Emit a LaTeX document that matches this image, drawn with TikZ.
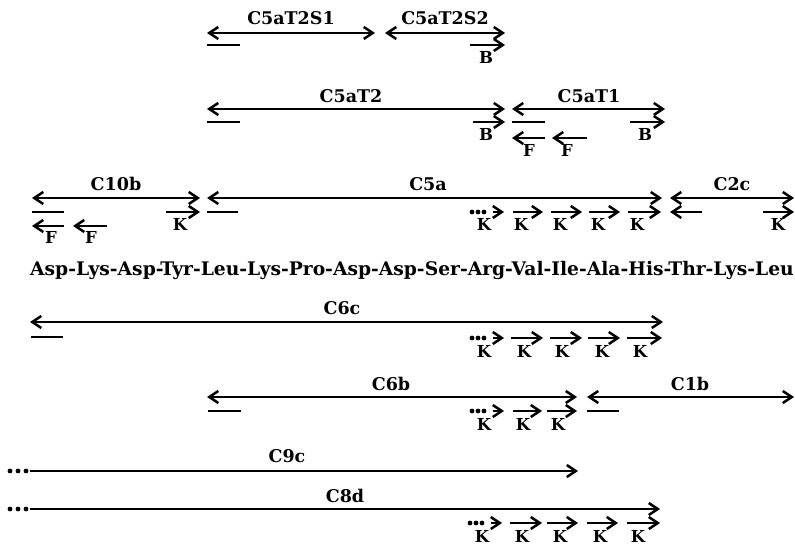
\documentclass[tikz,border=0pt]{standalone}
\usepackage{fontspec}
\setmainfont{DejaVu Serif}
\usetikzlibrary{arrows.meta}
\newcommand\Seg[5]{%
  \coordinate (#1a) at (#2,#4);
  \coordinate (#1b) at (#3,#4);
  \draw[main,#5] (#1a) -- (#1b);}
\newcommand\Lab[4]{\node[lab] (#1) at (#2,#3) {#4};}
\newcommand\Sml[4]{\node[sm] (#1) at (#2,#3) {#4};}
\newcommand\DotArr[4]{%
  \fill (#2+2,#3) circle (2.4);
  \fill (#2+8,#3) circle (2.4);
  \fill (#2+14,#3) circle (2.4);
  \coordinate (#1a) at (#2+23,#3);
  \coordinate (#1b) at (#2+34,#3);
  \draw[main,->] (#1a) -- (#1b);
  \node[sm] (#1t) at (#2+14,#3+19) {#4};}
\newcommand\Karr[6]{%
  \Seg{#1}{#2}{#3}{#4}{->}
  \node[sm] (#1t) at (#5,#4+19) {#6};}
\begin{document}
\begin{tikzpicture}[x=1pt,y=-1pt,
  >={Straight Barb[length=9pt,width=12pt]},
  main/.style={line width=2.5pt},
  lab/.style={anchor=base,inner sep=0pt,font=\fontsize{17.5}{20}\selectfont\bfseries},
  sm/.style={anchor=base,inner sep=0pt,font=\fontsize{16.5}{19}\selectfont\bfseries},
  seq/.style={anchor=base west,inner sep=0pt,font=\fontsize{18.7}{21}\selectfont\bfseries}]
\useasboundingbox (0,0) rectangle (795,545);
% row 1
\Seg{s1}{207}{375}{33}{<->} \Lab{s1t}{291}{25}{C5aT2S1}
\Seg{s2}{385}{505}{33}{<->} \Lab{s2t}{445}{25}{C5aT2S2}
\Seg{s1u}{207}{240}{45}{-}
\Karr{s2b}{470}{505}{45}{486}{B}
% row 2
\Seg{t2}{207}{505}{109}{<->} \Lab{t2t}{351}{103}{C5aT2}
\Seg{t1}{512}{665}{109}{<->} \Lab{t1t}{589}{103}{C5aT1}
\Seg{t2u}{207}{240}{122}{-}
\Karr{t2b}{473}{505}{122}{486}{B}
\Seg{t1u}{512}{545}{122}{-}
\Karr{t1b}{630}{665}{122}{645}{B}
\Seg{f1}{512}{545}{138}{<-} \Sml{f1t}{529}{157}{F}
\Seg{f2}{552}{587}{138}{<-} \Sml{f2t}{567}{157}{F}
% row 3
\Seg{c10}{32}{200}{198}{<->} \Lab{c10t}{116}{191}{C10b}
\Seg{c5}{207}{662}{198}{<->} \Lab{c5t}{428}{191}{C5a}
\Seg{c2}{670}{794}{198}{<->} \Lab{c2t}{732}{191}{C2c}
\Seg{c10u}{32}{64}{212}{-}
\Karr{c10k}{166}{200}{212}{180}{K}
\Seg{c5u}{207}{238}{212}{-}
\DotArr{c5d}{470}{212}{K}
\Karr{c5k1}{513}{543}{212}{521}{K}
\Karr{c5k2}{551}{582}{212}{560}{K}
\Karr{c5k3}{589}{620}{212}{598}{K}
\Karr{c5k4}{628}{661}{212}{637}{K}
\Seg{c2l}{670}{702}{212}{<-}
\Karr{c2k}{763}{794}{212}{778}{K}
\Seg{g1}{32}{64}{226}{<-} \Sml{g1t}{51}{244}{F}
\Seg{g2}{73}{107}{226}{<-} \Sml{g2t}{91}{244}{F}
% sequence
\node[seq] (seq) at (30,276) {Asp-Lys-Asp-Tyr-Leu-Lys-Pro-Asp-Asp-Ser-Arg-Val-Ile-Ala-His-Thr-Lys-Leu};
% row 5
\Seg{c6c}{30}{663}{322}{<->} \Lab{c6ct}{342}{315}{C6c}
\Seg{c6cu}{31}{63}{337}{-}
\DotArr{c6d}{470}{338}{K}
\Karr{c6k1}{511}{543}{338}{524}{K}
\Karr{c6k2}{550}{582}{338}{562}{K}
\Karr{c6k3}{588}{620}{338}{602}{K}
\Karr{c6k4}{627}{662}{338}{640}{K}
% row 6
\Seg{c6b}{207}{577}{397}{<->} \Lab{c6bt}{391}{390}{C6b}
\Seg{c1b}{587}{794}{397}{<->} \Lab{c1bt}{690}{390}{C1b}
\Seg{c6bu}{208}{241}{411}{-}
\Seg{c1bu}{587}{619}{411}{-}
\DotArr{c6bd}{470}{411}{K}
\Karr{c6bk1}{513}{542}{411}{523}{K}
\Karr{c6bk2}{547}{577}{411}{558}{K}
% row 7
\fill (10,471) circle (2.4); \fill (18,471) circle (2.4); \fill (26,471) circle (2.4);
\Seg{c9c}{30}{578}{471}{->} \Lab{c9ct}{287}{462}{C9c}
% row 8
\fill (10,509) circle (2.4); \fill (18,509) circle (2.4); \fill (26,509) circle (2.4);
\Seg{c8d}{30}{660}{509}{->} \Lab{c8dt}{345}{502}{C8d}
\DotArr{c8dd}{468}{523}{K}
\Karr{c8k1}{510}{542}{523}{522}{K}
\Karr{c8k2}{547}{578}{523}{560}{K}
\Karr{c8k3}{587}{618}{523}{600}{K}
\Karr{c8k4}{627}{660}{523}{638}{K}
\end{tikzpicture}
\end{document}
